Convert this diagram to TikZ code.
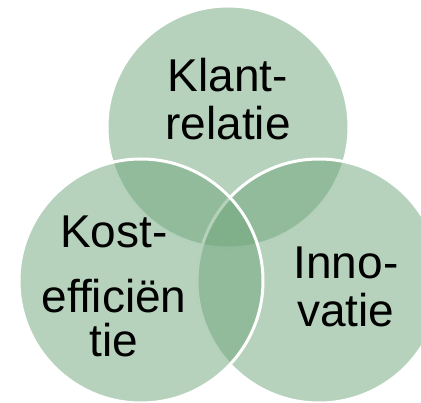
\documentclass[tikz,border=0pt]{standalone}
\usepackage{fontspec}
\setmainfont{Liberation Sans}
\usepackage{xcolor}
\usetikzlibrary{positioning}

\definecolor{venngreen}{RGB}{109,165,121}

\begin{document}
\begin{tikzpicture}[x=1pt, y=-1pt,
    venn/.style={circle, draw=white, line width=3pt, fill=venngreen, fill opacity=0.5, inner sep=0pt, minimum size=#1},
    word/.style={align=center, text=black, font=\fontsize{46}{48}\selectfont, inner sep=0pt}]

    \useasboundingbox (0,0) rectangle (421,403);

    % circles: top first, then right, then left
    \node (Klant) [venn=242pt] at (228,127) {};
    \node (Innovatie) [venn=244pt] at (319,281) {};
    \node (Kosten) [venn=244pt] at (141,281) {};

    \node (KlantText) [word] at (228,99.5) {Klant-\\relatie};
    \node (InnovatieText) [word] at (346,287) {Inno-\\vatie};
    \node (KostenText) [word] at (114,286) {Kost-\\[17pt]efficiën\\[-4pt]tie};
\end{tikzpicture}
\end{document}
